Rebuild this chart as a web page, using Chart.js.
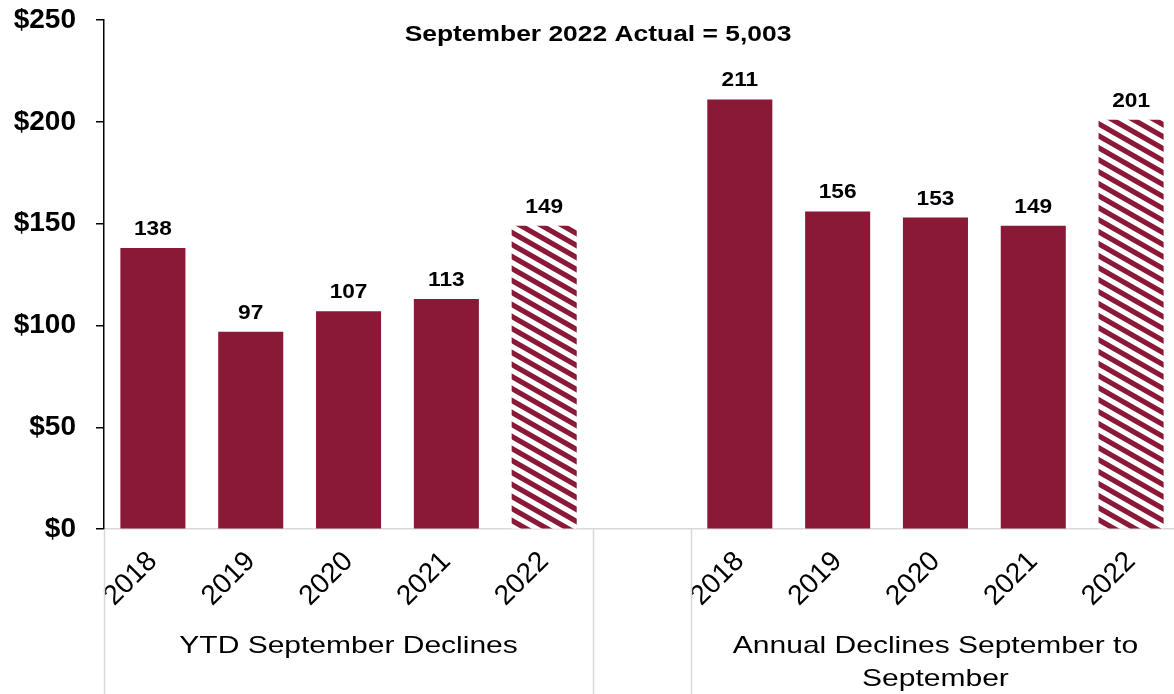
<!DOCTYPE html>
<html>
<head>
<meta charset="utf-8">
<script src="https://cdn.jsdelivr.net/npm/chart.js@4/dist/chart.umd.min.js"></script>
<style>
    html, body { margin: 0; padding: 0; background: #fff; overflow: hidden; }
    .wrap { position: relative; width: 1184px; height: 694px; }
</style>
</head>
<body>
<div class="wrap"><canvas id="chart"></canvas></div>
<script>
// declines by year, two groups separated by an empty slot
const years = ['2018', '2019', '2020', '2021', '2022', '', '2018', '2019', '2020', '2021', '2022'];
const declines = [138, 97, 107, 113, 149, null, 211, 156, 153, 149, 201];
const hatched = [false, false, false, false, true, false, false, false, false, false, true];
const groups = [
    { from: 0, to: 4, lines: ['YTD September Declines'] },
    { from: 6, to: 10, lines: ['Annual Declines September to', 'September'] }
];
const separators = [0, 5, 6];
const yMax = 250;
const yStep = 50;
const headline = 'September 2022 Actual = 5,003';

const MAROON = '#891937';
const FONT = '"Liberation Sans", Arial, sans-serif';

function stripes() {
    const w = 21, h = 12;
    const c = document.createElement('canvas');
    c.width = w;
    c.height = h;
    const ctx = c.getContext('2d');
    ctx.fillStyle = '#fff';
    ctx.fillRect(0, 0, w, h);
    ctx.strokeStyle = MAROON;
    ctx.lineWidth = 5.2;
    for (let k = -1; k <= 1; k++) {
        ctx.beginPath();
        ctx.moveTo(-w, -h + k * h);
        ctx.lineTo(2 * w, 2 * h + k * h);
        ctx.stroke();
    }
    return document.getElementById('chart').getContext('2d').createPattern(c, 'repeat');
}

function wideText(ctx, text, x, y, sx) {
    ctx.save();
    ctx.translate(x, y);
    ctx.scale(sx, 1);
    ctx.fillText(text, 0, 0);
    ctx.restore();
}

const extras = {
    id: 'extras',
    afterDraw(chart) {
        const ctx = chart.ctx,
            x = chart.scales.x,
            area = chart.chartArea,
            half = (x.getPixelForValue(1) - x.getPixelForValue(0)) / 2;

        // separators below the axis
        ctx.save();
        ctx.strokeStyle = '#d9d9d9';
        ctx.lineWidth = 1.5;
        separators.forEach(i => {
            const px = Math.round(x.getPixelForValue(i) - half) + 0.5;
            ctx.beginPath();
            ctx.moveTo(px, area.bottom);
            ctx.lineTo(px, chart.height);
            ctx.stroke();
        });
        ctx.restore();

        // value labels
        ctx.save();
        ctx.fillStyle = '#000';
        ctx.textAlign = 'center';
        ctx.textBaseline = 'alphabetic';
        ctx.font = 'bold 21px ' + FONT;
        chart.getDatasetMeta(0).data.forEach((bar, i) => {
            if (declines[i] == null) {
                return;
            }
            wideText(ctx, String(declines[i]), bar.x, bar.y - 13, 1.08);
        });

        // group names
        ctx.font = '24px ' + FONT;
        groups.forEach(g => {
            const cx = (x.getPixelForValue(g.from) + x.getPixelForValue(g.to)) / 2;
            g.lines.forEach((line, j) => {
                wideText(ctx, line, cx, 653 + j * 33, 1.25);
            });
        });

        // headline
        ctx.font = 'bold 22px ' + FONT;
        wideText(ctx, headline, 598, 41, 1.2);
        ctx.restore();
    }
};

const pattern = stripes();

new Chart(document.getElementById('chart'), {
    type: 'bar',
    data: {
        labels: years,
        datasets: [{
            data: declines,
            backgroundColor: hatched.map(h => h ? pattern : MAROON),
            barPercentage: 0.665,
            categoryPercentage: 1
        }]
    },
    options: {
        responsive: true,
        maintainAspectRatio: false,
        animation: false,
        layout: {
            padding: { top: 0, left: 0, right: 4, bottom: 73 }
        },
        scales: {
            x: {
                grid: { display: false },
                border: { display: true, color: '#d9d9d9', width: 1.5 },
                ticks: {
                    color: '#000',
                    font: { family: FONT, size: 28 },
                    minRotation: 45,
                    maxRotation: 45,
                    padding: 8,
                    autoSkip: false
                }
            },
            y: {
                min: 0,
                max: yMax,
                grid: {
                    drawOnChartArea: false,
                    color: '#000',
                    tickLength: 8,
                    lineWidth: 1.5
                },
                border: { display: true, color: '#000', width: 1.5 },
                ticks: {
                    stepSize: yStep,
                    color: '#000',
                    padding: 20,
                    font: { family: FONT, size: 28, weight: 'bold' },
                    callback: v => '$' + v
                },
                // fixed axis width and a small top margin for the $250 label
                afterFit(scale) {
                    scale.width = 104;
                    scale.paddingTop = 20;
                }
            }
        },
        plugins: {
            legend: { display: false },
            tooltip: { enabled: false }
        }
    },
    plugins: [extras]
});
</script>
</body>
</html>
